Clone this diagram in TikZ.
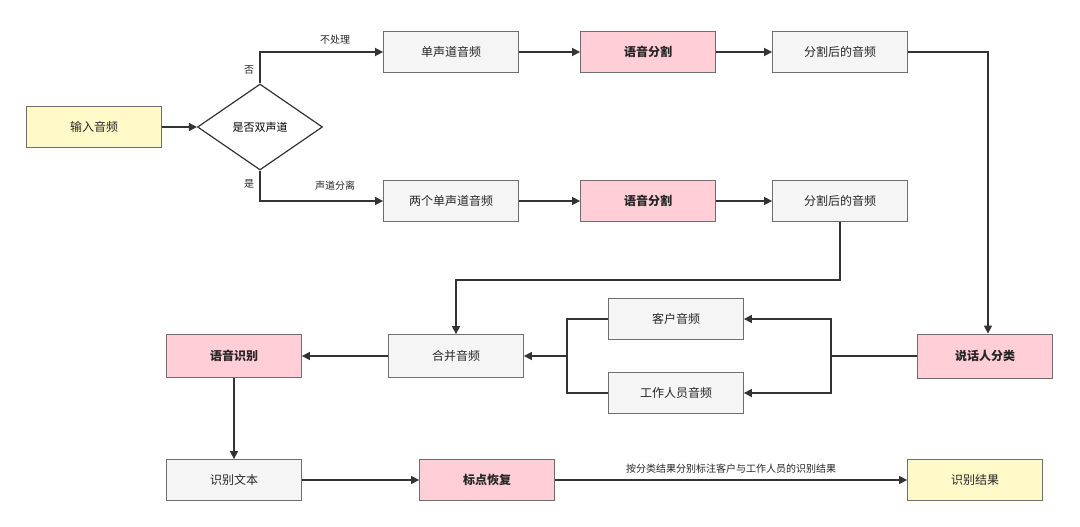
\documentclass[tikz,border=0pt]{standalone}
\usepackage{fontspec}
\setmainfont{Noto Sans CJK SC}
\usetikzlibrary{shapes.geometric,arrows.meta}
\definecolor{gfill}{HTML}{F5F5F5}
\definecolor{pfill}{HTML}{FFCED6}
\definecolor{yfill}{HTML}{FFF9C8}
\definecolor{bord}{HTML}{6E6E6E}
\definecolor{ln}{HTML}{333333}
\begin{document}
\begin{tikzpicture}[x=1pt,y=-1pt,
 box/.style={draw=bord,line width=0.8pt,minimum width=135pt,minimum height=41pt,inner sep=0pt,font=\fontsize{12}{14}\selectfont,text=black!85},
 g/.style={box,fill=gfill},
 p/.style={box,fill=pfill,font=\fontsize{12}{14}\selectfont\bfseries},
 yl/.style={box,fill=yfill},
 ar/.style={draw=ln,line width=1.5pt,-{Triangle[length=8pt,width=8pt]}},
 li/.style={draw=ln,line width=1.5pt},
 lab/.style={font=\fontsize{10}{12}\selectfont,text=black!85}]
\useasboundingbox (0,0) rectangle (1080,527);
\node[yl] (in) at (94,127) {输入音频};
\node[diamond,draw=ln,line width=1.2pt,fill=white,minimum width=125pt,minimum height=86pt,inner sep=0pt,aspect=1.45,font=\fontsize{11}{13}\selectfont] (d) at (260,127) {是否双声道};
\node[g] (m1) at (451,52) {单声道音频};
\node[p] (s1) at (648,52) {语音分割};
\node[g] (a1) at (840,52) {分割后的音频};
\node[g] (m2) at (451,201) {两个单声道音频};
\node[p] (s2) at (648,201) {语音分割};
\node[g] (a2) at (840,201) {分割后的音频};
\node[p,minimum height=44pt] (sp) at (985,356) {说话人分类};
\node[g] (kh) at (676,319) {客户音频};
\node[g] (gz) at (676,393) {工作人员音频};
\node[g,minimum height=43pt] (hb) at (456,356) {合并音频};
\node[p,minimum height=43pt] (sb) at (234,356) {语音识别};
\node[g] (wb) at (234,480) {识别文本};
\node[p] (bd) at (487,480) {标点恢复};
\node[yl] (jg) at (975,480) {识别结果};
\draw[ar] (in) -- (d.west);
\draw[ar] (d.north) |- (m1.west);
\node[lab] at (249,70) {否};
\node[lab] at (335,40) {不处理};
\draw[ar] (d.south) |- (m2.west);
\node[lab] at (249,184) {是};
\node[lab] at (335,186) {声道分离};
\draw[ar] (m1) -- (s1); \draw[ar] (s1) -- (a1);
\draw[ar] (m2) -- (s2); \draw[ar] (s2) -- (a2);
\draw[ar] (a1.east) -| (sp.north -| 988,0);
\coordinate (c1) at (840,280);
\draw[ar] (a2.south) -- (c1) -| (hb.north);
\coordinate (r) at (831,356);
\draw[li] (sp.west) -- (r);
\draw[ar] (r) |- (kh.east);
\draw[ar] (r) |- (gz.east);
\coordinate (l) at (567,356);
\draw[li] (kh.west) -| (l) |- (gz.west);
\draw[ar] (l) -- (hb.east);
\draw[ar] (hb) -- (sb);
\draw[ar] (sb) -- (wb);
\draw[ar] (wb) -- (bd);
\draw[ar] (bd) -- node[lab,above=3pt]{按分类结果分别标注客户与工作人员的识别结果} (jg);
\end{tikzpicture}
\end{document}
